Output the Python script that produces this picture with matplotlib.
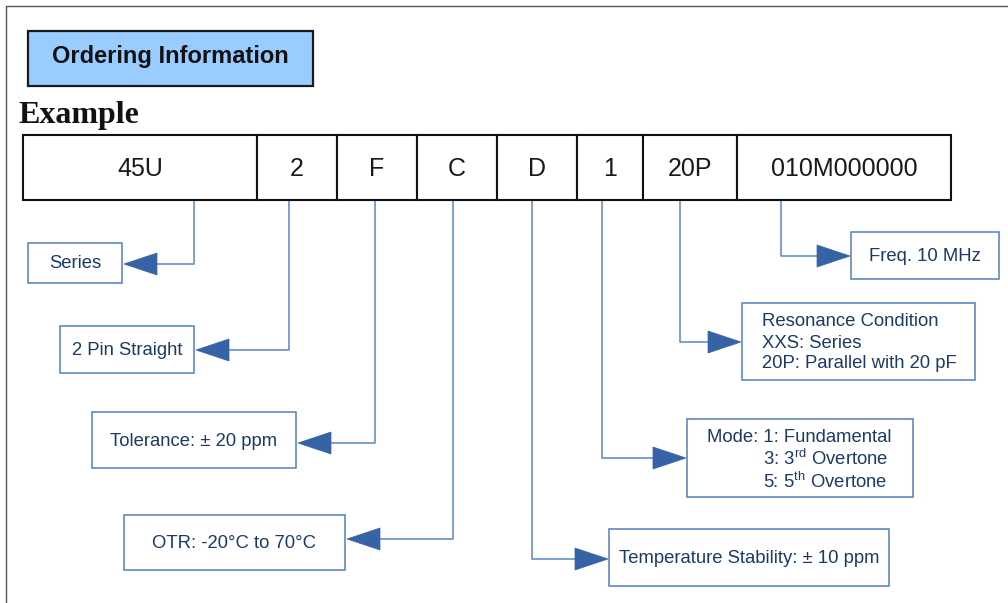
import matplotlib.pyplot as plt
from matplotlib.patches import Rectangle, Polygon

plt.rcParams['font.family'] = ['Liberation Sans', 'DejaVu Sans']
plt.rcParams['mathtext.fontset'] = 'custom'
plt.rcParams['mathtext.rm'] = 'Liberation Sans'

# Part number fields, left to right
codes = ['45U', '2', 'F', 'C', 'D', '1', '20P', '010M000000']
cell_edges = [23, 257, 337, 417, 497, 577, 643, 737, 951]

# Descriptions, in the same order as the codes
descriptions = [
    ['Series'],
    ['2 Pin Straight'],
    ['Tolerance: ± 20 ppm'],
    ['OTR: -20°C to 70°C'],
    ['Temperature Stability: ± 10 ppm'],
    ['Mode: 1: Fundamental',
     r'3: 3$^{\mathregular{rd}}$ Overtone',
     r'5: 5$^{\mathregular{th}}$ Overtone'],
    ['Resonance Condition', 'XXS: Series', '20P: Parallel with 20 pF'],
    ['Freq. 10 MHz'],
]

# layout (pixels): stem x, elbow y, box (x0, y0, x1, y1), side the box is on
stem_x = [194, 289, 375, 453, 532, 602, 680, 781]
elbow_y = [264, 350, 443, 539, 559, 458, 342, 256]
boxes = [(28, 243, 122, 283), (60, 326, 194, 373), (92, 412, 296, 468),
         (124, 515, 345, 570), (609, 529, 889, 586), (687, 419, 913, 497),
         (742, 303, 975, 380), (851, 232, 999, 279)]
sides = ['L', 'L', 'L', 'L', 'R', 'R', 'R', 'R']

line_c = '#5a86c4'
arrow_c = '#3563a6'
box_c = '#4f7fc0'
text_c = '#1c3a66'
fs = 13.3

fig = plt.figure(figsize=(10.08, 6.03), dpi=100)
ax = fig.add_axes([0, 0, 1, 1])
ax.set_xlim(0, 1008)
ax.set_ylim(603, 0)
ax.axis('off')

# page frame (top and left)
ax.plot([6, 6, 1008], [603, 6, 6], color='#555555', lw=1.0)

# header
ax.add_patch(Rectangle((28, 31), 285, 55, facecolor='#99ccff', edgecolor='#1a1a1a', lw=1.6))
ax.text(170, 57, 'Ordering Information', fontsize=17, fontweight='bold',
        ha='center', va='center', color='#111111')
ax.text(18, 115, 'Example', fontsize=23, fontweight='bold', family='Liberation Serif',
        ha='left', va='center', color='#111111')

# code table
top, bot = 135, 200
for i, code in enumerate(codes):
    x0, x1 = cell_edges[i], cell_edges[i + 1]
    ax.add_patch(Rectangle((x0, top), x1 - x0, bot - top, facecolor='white',
                           edgecolor='#111111', lw=1.5, zorder=2))
    ax.text((x0 + x1) / 2, (top + bot) / 2 + 1, code, fontsize=18,
            ha='center', va='center', color='#1a1a1a', zorder=3)

# connectors, arrows and description boxes
for i, lines in enumerate(descriptions):
    sx, ey = stem_x[i], elbow_y[i]
    bx0, by0, bx1, by1 = boxes[i]
    if sides[i] == 'L':
        tip, base = bx1 + 2, bx1 + 35
    else:
        tip, base = bx0 - 1, bx0 - 34
    ax.plot([sx, sx, base], [bot, ey, ey], color=line_c, lw=1.1, zorder=1)
    ax.add_patch(Polygon([(tip, ey), (base, ey - 11), (base, ey + 11)],
                         closed=True, facecolor=arrow_c, edgecolor=arrow_c, lw=0.5))
    ax.add_patch(Rectangle((bx0, by0), bx1 - bx0, by1 - by0, facecolor='white',
                           edgecolor=box_c, lw=1.1))
    cy = (by0 + by1) / 2
    if len(lines) == 1:
        ax.text((bx0 + bx1) / 2, cy + 1, lines[0], fontsize=fs,
                ha='center', va='center', color=text_c)

# multi-line boxes
mode_lines = descriptions[5]
ax.text(707, 437, mode_lines[0], fontsize=fs, ha='left', va='center', color=text_c)
ax.text(763, 459, mode_lines[1], fontsize=fs, ha='left', va='center', color=text_c)
ax.text(763, 482, mode_lines[2], fontsize=fs, ha='left', va='center', color=text_c)

res_lines = descriptions[6]
for j, ly in enumerate([321, 343, 364]):
    ax.text(762, ly, res_lines[j], fontsize=fs, ha='left', va='center', color=text_c)

fig.savefig('out.png', dpi=100)
